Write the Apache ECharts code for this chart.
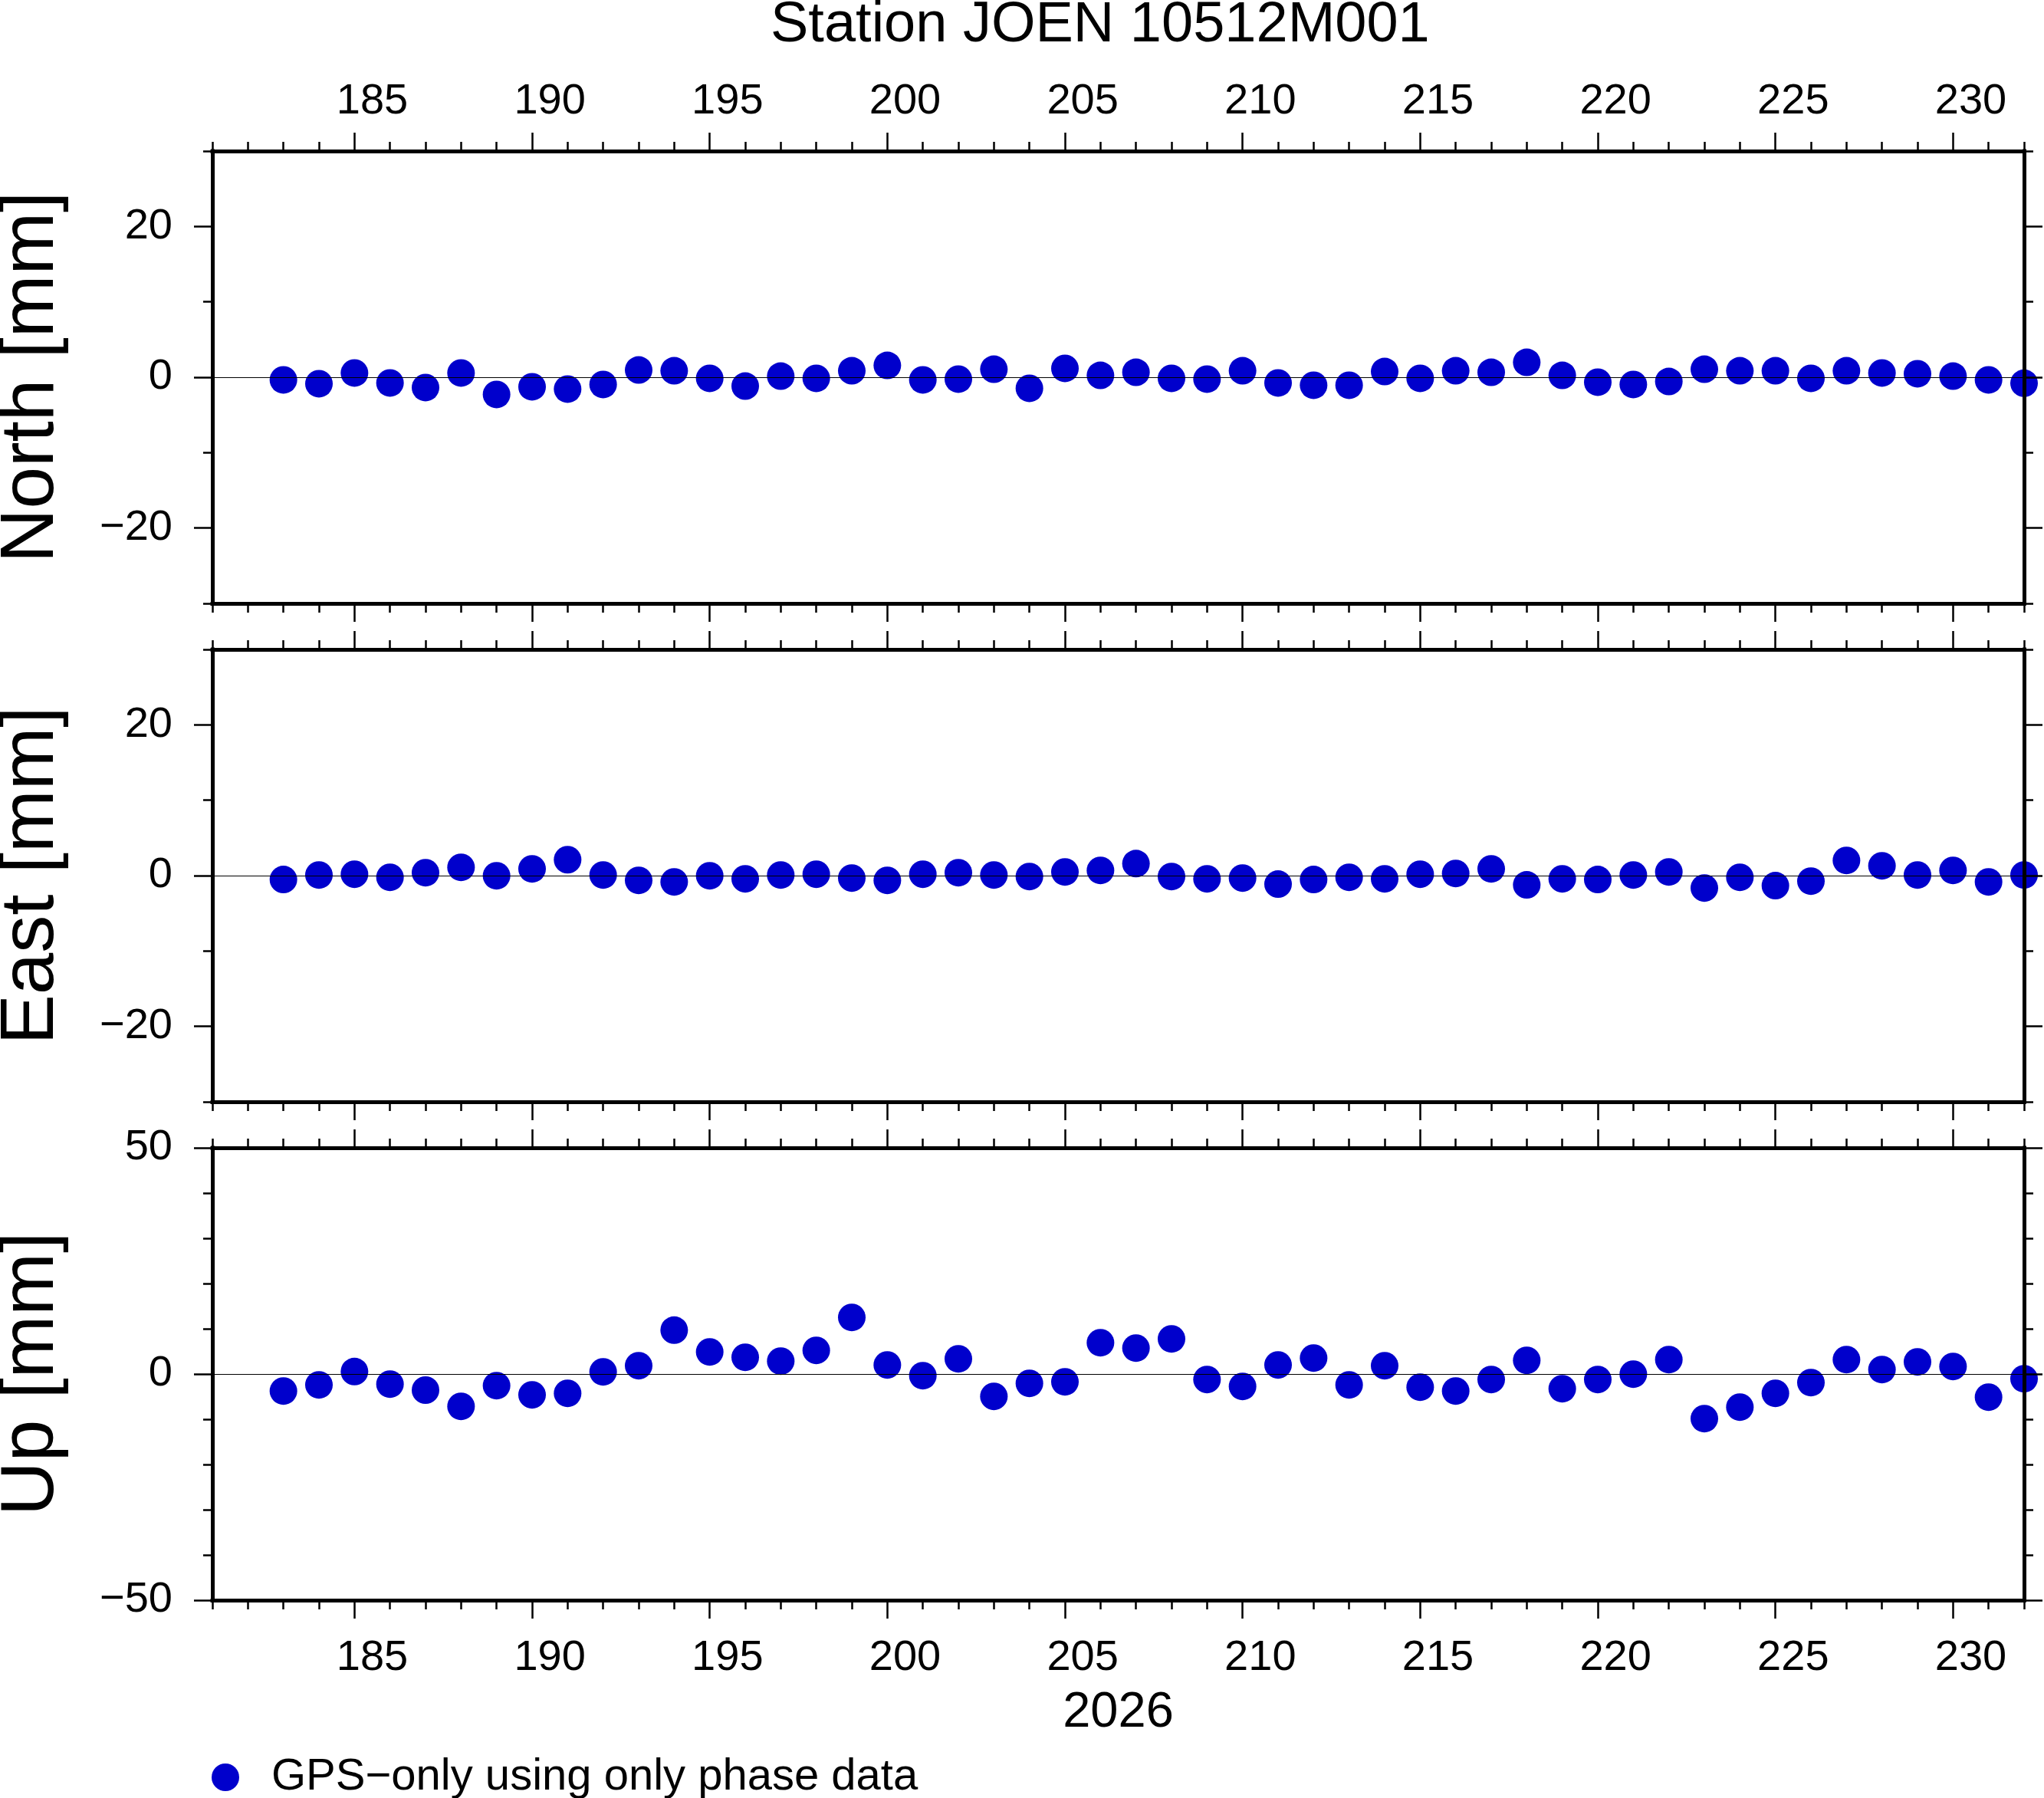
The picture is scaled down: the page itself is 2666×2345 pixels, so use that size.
<!DOCTYPE html>
<html>
<head>
<meta charset="utf-8">
<script src="https://cdn.jsdelivr.net/npm/echarts@6/dist/echarts.min.js"></script>
<style>
html,body{margin:0;padding:0;background:#fff;}
#chart{width:2666px;height:2345px;}
</style>
</head>
<body>
<div id="chart"></div>
<script>
// ---- data ----
const days = [183,184,185,186,187,188,189,190,191,192,193,194,195,196,197,198,199,200,201,202,203,204,205,206,207,
              208,209,210,211,212,213,214,215,216,217,218,219,220,221,222,223,224,225,226,227,228,229,230,231,232];
const north = [-0.35,-0.86,0.56,-0.76,-1.37,0.56,-2.28,-1.27,-1.57,-0.96,0.96,0.86,-0.15,-1.17,0.15,-0.15,0.86,1.57,-0.35,-0.25,1.06,-1.47,1.17,0.25,0.66,
               -0.15,-0.25,0.86,-0.76,-1.06,-1.06,0.76,-0.15,0.86,0.66,1.98,0.25,-0.66,-0.96,-0.56,1.06,0.86,0.86,-0.15,0.86,0.56,0.46,0.15,-0.35,-0.79];
const east = [-0.52,0.08,0.19,-0.22,0.39,1.10,-0.02,0.90,2.11,0.08,-0.63,-0.83,-0.02,-0.42,0.08,0.19,-0.32,-0.63,0.19,0.39,0.08,-0.12,0.49,0.69,1.60,
              -0.12,-0.42,-0.32,-1.13,-0.52,-0.22,-0.42,0.19,0.29,0.90,-1.23,-0.42,-0.52,0.08,0.49,-1.64,-0.22,-1.33,-0.73,2.01,1.30,0.08,0.69,-0.83,0.08];
const up = [-3.76,-2.40,0.54,-2.23,-3.56,-7.15,-2.57,-4.60,-4.27,0.48,1.84,9.69,4.89,3.70,2.85,5.23,12.51,2.01,-0.37,3.36,-4.94,-2.06,-1.72,6.92,5.73,
            7.77,-1.21,-2.74,2.01,3.53,-2.40,1.84,-2.91,-3.76,-1.21,3.02,-3.25,-1.21,-0.03,3.19,-9.86,-7.32,-4.27,-1.89,3.19,0.99,2.68,1.67,-5.11,-1.05];
const xMajorTicks = [185,190,195,200,205,210,215,220,225,230];
const xLabelValues = [185,190,195,200,205,210,215,220,225,230];
const panelNames = ['North [mm]','East [mm]','Up [mm]'];
const panelRanges = [[-30,30],[-30,30],[-50,50]];
const yMajorTicks = [[-20,0,20],[-20,0,20],[-50,0,50]];
const titleText = 'Station JOEN 10512M001';
const yearText = '2026';
const legendText = 'GPS\u2212only using only phase data';

// ---- layout / style ----
const FONT = 'Liberation Sans';
const gridTops = [197, 847, 1497];
const gridH = 590;
const frameW = 5;
const tickW = 2.5;
const minorLen = 12, majorLen = 24;
const dotColor = '#0000cc';

const grids = gridTops.map(t => ({
  left: 277, right: 26, top: t, height: gridH, show: false,
  containLabel: false, outerBoundsMode: 'none'
}));

const xAxes = [];
const yAxes = [];
const xIdx = [], yIdx = [];

function baseX(g, pos) {
  return {
    gridIndex: g, type: 'value', position: pos, min: 181, max: 232,
    splitLine: {show: false}, axisLabel: {show: false},
    axisLine: {show: false, onZero: false}, axisTick: {show: false}, z: 10
  };
}
function baseY(g, pos) {
  return {
    gridIndex: g, type: 'value', position: pos, min: panelRanges[g][0], max: panelRanges[g][1],
    splitLine: {show: false}, axisLabel: {show: false},
    axisLine: {show: false, onZero: false}, axisTick: {show: false}, z: 10
  };
}

for (let g = 0; g < 3; g++) {
  ['bottom','top'].forEach(pos => {
    const minor = baseX(g, pos);
    minor.interval = 1;
    minor.axisLine = {show: true, onZero: false, lineStyle: {color: '#000', width: frameW, cap: 'square'}};
    minor.axisTick = {show: true, inside: false, length: minorLen, lineStyle: {color: '#000', width: tickW}};
    if (pos === 'bottom') xIdx[g] = xAxes.length;
    xAxes.push(minor);
    const major = baseX(g, pos);
    major.axisTick = {show: true, inside: false, length: majorLen, customValues: xMajorTicks, lineStyle: {color: '#000', width: tickW}};
    xAxes.push(major);
  });
  ['left','right'].forEach(pos => {
    const minor = baseY(g, pos);
    minor.interval = 10;
    minor.axisLine = {show: true, onZero: false, lineStyle: {color: '#000', width: frameW, cap: 'square'}};
    minor.axisTick = {show: true, inside: false, length: minorLen, lineStyle: {color: '#000', width: tickW}};
    if (pos === 'left') yIdx[g] = yAxes.length;
    yAxes.push(minor);
    const major = baseY(g, pos);
    major.axisTick = {show: true, inside: false, length: majorLen, customValues: yMajorTicks[g], lineStyle: {color: '#000', width: tickW}};
    if (pos === 'left') {
      major.axisLabel = {
        show: true, customValues: yMajorTicks[g], margin: 52,
        fontSize: 56, fontFamily: FONT, color: '#000', padding: [12, 0, 0, 0],
        formatter: v => String(v).replace('-', '\u2212')
      };
      major.name = panelNames[g];
      major.nameLocation = 'middle';
      major.nameGap = 186;
      major.nameTextStyle = {fontSize: 98, fontFamily: FONT, color: '#000'};
    }
    yAxes.push(major);
  });
}
// label axes (labels sit in the middle of each day interval)
function labelAxis(g, pos, margin) {
  const a = baseX(g, pos);
  a.min = 180.5; a.max = 231.5;
  a.axisLabel = {show: true, customValues: xLabelValues, margin: margin, fontSize: 56, fontFamily: FONT, color: '#000'};
  return a;
}
xAxes.push(labelAxis(0, 'top', 36));
const bottomLab = labelAxis(2, 'bottom', 48);
bottomLab.name = yearText;
bottomLab.nameLocation = 'middle';
bottomLab.nameGap = 115;
bottomLab.nameTextStyle = {fontSize: 65, fontFamily: FONT, color: '#000'};
xAxes.push(bottomLab);

const values = [north, east, up];
const series = values.map((vals, g) => ({
  type: 'scatter', name: legendText,
  xAxisIndex: xIdx[g], yAxisIndex: yIdx[g],
  symbol: 'circle', symbolSize: 36, clip: false,
  itemStyle: {color: dotColor, opacity: 1},
  emphasis: {disabled: true},
  data: days.map((d, i) => [d, vals[i]]),
  markLine: {
    silent: true, symbol: 'none', animation: false,
    label: {show: false},
    lineStyle: {color: '#000', width: 1.2, type: 'solid', opacity: 1},
    emphasis: {disabled: true},
    data: [{yAxis: 0}]
  },
  z: 2
}));

const option = {
  backgroundColor: '#fff',
  animation: false,
  title: {
    text: titleText, left: 1005, top: -3, padding: 0,
    textStyle: {fontSize: 74, fontWeight: 'normal', fontFamily: FONT, color: '#000'}
  },
  legend: {
    left: 276, top: 2289, padding: 0, itemWidth: 36, itemHeight: 36, icon: 'circle',
    selectedMode: false,
    data: [legendText],
    itemStyle: {opacity: 1},
    textStyle: {fontSize: 58, fontFamily: FONT, color: '#000', padding: [0, 0, 0, 37]}
  },
  grid: grids,
  xAxis: xAxes,
  yAxis: yAxes,
  series: series
};

const chart = echarts.init(document.getElementById('chart'), null, {renderer: 'canvas'});
chart.setOption(option);
</script>
</body>
</html>
